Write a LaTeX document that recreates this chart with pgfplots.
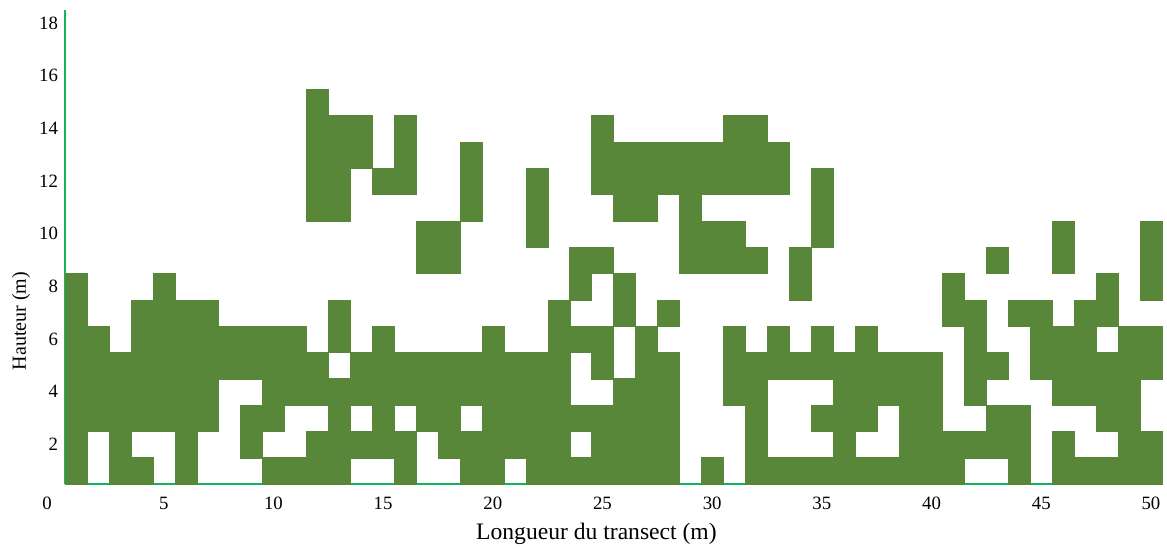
\documentclass[border=0pt]{standalone}
\usepackage{fontspec}
\setmainfont{Liberation Serif}
\usepackage{pgfplots}
\pgfplotsset{compat=1.18}
\definecolor{cellg}{RGB}{88,135,58}
\definecolor{axg}{RGB}{20,180,90}
\begin{document}
\begin{tikzpicture}
\begin{axis}[
 set layers,
 scale only axis, width=548.5pt, height=237pt,
 at={(0,0)}, anchor=south west,
 xmin=0.5, xmax=50.5, ymin=0.5, ymax=18.5,
 axis x line*=bottom, axis y line*=left,
 axis line style={axg, line width=1pt, -},
 xtick={5,10,...,50}, ytick={2,4,...,18},
 major tick length=0pt,
 tick style={draw=none},
 /pgf/number format/assume math mode=true,
 ticklabel style={font=\fontsize{9.4}{11}\selectfont},
 xticklabel shift=3pt,
 xlabel={Longueur du transect (m)}, ylabel={Hauteur (m)},
 label style={font=\fontsize{11.8}{14}\selectfont},
 xlabel style={xshift=-8.5pt},
 every axis y label/.style={at={(axis description cs:-0.0401,0.344)}, rotate=90, anchor=center},
 clip=false,
]
\addplot[cellg, only marks, mark=square*, mark size=5.5pt,
  mark options={solid, draw=cellg, fill=cellg, line width=0.1pt, yscale=1.2003}] coordinates {
(1,1)(1,2)(1,3)(1,4)(1,5)(1,6)(1,7)(1,8)
(2,3)(2,4)(2,5)(2,6)
(3,1)(3,2)(3,3)(3,4)(3,5)
(4,1)(4,3)(4,4)(4,5)(4,6)(4,7)
(5,3)(5,4)(5,5)(5,6)(5,7)(5,8)
(6,1)(6,2)(6,3)(6,4)(6,5)(6,6)(6,7)
(7,3)(7,4)(7,5)(7,6)(7,7)
(8,5)(8,6)
(9,2)(9,3)(9,5)(9,6)
(10,1)(10,3)(10,4)(10,5)(10,6)
(11,1)(11,4)(11,5)(11,6)
(12,1)(12,2)(12,4)(12,5)(12,11)(12,12)(12,13)(12,14)(12,15)
(13,1)(13,2)(13,3)(13,4)(13,6)(13,7)(13,11)(13,12)(13,13)(13,14)
(14,2)(14,4)(14,5)(14,13)(14,14)
(15,2)(15,3)(15,4)(15,5)(15,6)(15,12)
(16,1)(16,2)(16,4)(16,5)(16,12)(16,13)(16,14)
(17,3)(17,4)(17,5)(17,9)(17,10)
(18,2)(18,3)(18,4)(18,5)(18,9)(18,10)
(19,1)(19,2)(19,4)(19,5)(19,11)(19,12)(19,13)
(20,1)(20,2)(20,3)(20,4)(20,5)(20,6)
(21,2)(21,3)(21,4)(21,5)
(22,1)(22,2)(22,3)(22,4)(22,5)(22,10)(22,11)(22,12)
(23,1)(23,2)(23,3)(23,4)(23,5)(23,6)(23,7)
(24,1)(24,3)(24,6)(24,8)(24,9)
(25,1)(25,2)(25,3)(25,5)(25,6)(25,9)(25,12)(25,13)(25,14)
(26,1)(26,2)(26,3)(26,4)(26,7)(26,8)(26,11)(26,12)(26,13)
(27,1)(27,2)(27,3)(27,4)(27,5)(27,6)(27,11)(27,12)(27,13)
(28,1)(28,2)(28,3)(28,4)(28,5)(28,7)(28,12)(28,13)
(29,9)(29,10)(29,11)(29,12)(29,13)
(30,1)(30,9)(30,10)(30,12)(30,13)
(31,4)(31,5)(31,6)(31,9)(31,10)(31,12)(31,13)(31,14)
(32,1)(32,2)(32,3)(32,4)(32,5)(32,9)(32,12)(32,13)(32,14)
(33,1)(33,5)(33,6)(33,12)(33,13)
(34,1)(34,5)(34,8)(34,9)
(35,1)(35,3)(35,5)(35,6)(35,10)(35,11)(35,12)
(36,1)(36,2)(36,3)(36,4)(36,5)
(37,1)(37,3)(37,4)(37,5)(37,6)
(38,1)(38,4)(38,5)
(39,1)(39,2)(39,3)(39,4)(39,5)
(40,1)(40,2)(40,3)(40,4)(40,5)
(41,1)(41,2)(41,7)(41,8)
(42,2)(42,4)(42,5)(42,6)(42,7)
(43,2)(43,3)(43,5)(43,9)
(44,1)(44,2)(44,3)(44,7)
(45,5)(45,6)(45,7)
(46,1)(46,2)(46,4)(46,5)(46,6)(46,9)(46,10)
(47,1)(47,4)(47,5)(47,6)(47,7)
(48,1)(48,3)(48,4)(48,5)(48,7)(48,8)
(49,1)(49,2)(49,3)(49,4)(49,5)(49,6)
(50,1)(50,2)(50,5)(50,6)(50,8)(50,9)(50,10)
};
\node[anchor=north, yshift=-3pt, xshift=-3.5pt, font=\fontsize{9.4}{11}\selectfont] at (axis cs:0,0.5) {0};
\end{axis}
\path[use as bounding box] (-32.5pt,-31pt) rectangle (551pt,242pt);
\end{tikzpicture}
\end{document}
